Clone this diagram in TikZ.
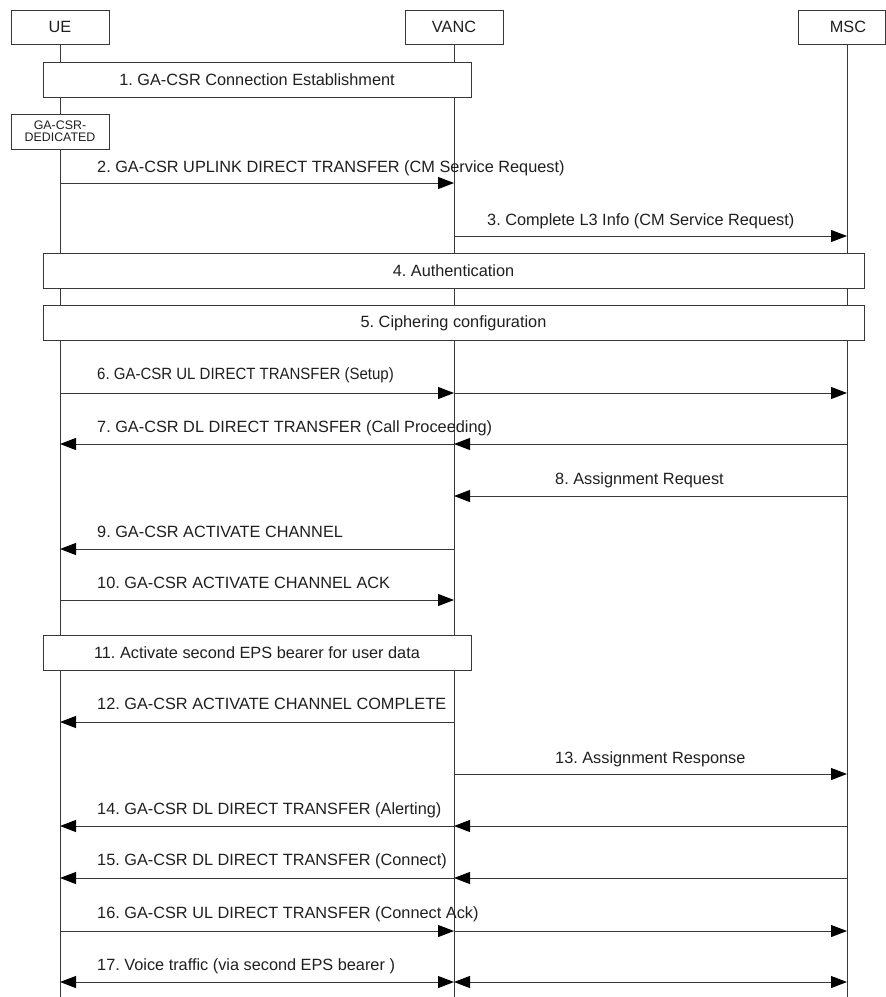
\documentclass[tikz,border=0pt]{standalone}
\usepackage{fontspec}
\setmainfont{Liberation Sans}
\usetikzlibrary{arrows.meta}
\begin{document}
\frenchspacing
\begin{tikzpicture}[x=1pt,y=-1pt,
  line/.style={draw=black!78, line width=0.9pt},
  entity/.style={line, fill=white, minimum width=98pt, minimum height=34pt, inner sep=0pt,
    text=black!88, font=\fontsize{16.3}{19}\selectfont},
  phase/.style={line, fill=white, minimum height=35pt, inner sep=0pt,
    text=black!88, font=\fontsize{16.3}{19}\selectfont},
  state/.style={line, fill=white, minimum width=98pt, minimum height=35pt, inner sep=0pt,
    align=center, text=black!88, font=\fontsize{12.4}{12.4}\selectfont},
  tip/.tip={Triangle[length=16pt,width=12pt,fill=black,color=black]},
  msg/.style={line, -tip},
  both/.style={line, tip-tip},
  lbl/.style={anchor=base west, inner sep=0pt, text=black!88, font=\fontsize{16.3}{19}\selectfont}
]
\useasboundingbox (0,0) rectangle (886,997);

% message rows: one coordinate on each lifeline
\newcommand\msgrow[2]{%
  \coordinate (u#1) at (60,#2);
  \coordinate (v#1) at (454,#2);
  \coordinate (m#1) at (847,#2);}
\msgrow{2}{183}
\msgrow{3}{236}
\msgrow{6}{393}
\msgrow{7}{444}
\msgrow{8}{496}
\msgrow{9}{549}
\msgrow{10}{600}
\msgrow{12}{722}
\msgrow{13}{774}
\msgrow{14}{826}
\msgrow{15}{878}
\msgrow{16}{931}
\msgrow{17}{982}

% entities
\node[entity] (ue) at (60,27) {UE};
\node[entity] (vanc) at (454,27) {VANC};
\node[entity, minimum width=87pt] (msc) at (841.5,27) {\hspace*{13pt}MSC};

% lifelines
\coordinate (ueEnd) at (60,997);
\coordinate (vancEnd) at (454,997);
\coordinate (mscTop) at (847,44);
\coordinate (mscEnd) at (847,997);
\draw[line] (ue.south) -- (ueEnd);
\draw[line] (vanc.south) -- (vancEnd);
\draw[line] (mscTop) -- (mscEnd);

% procedures spanning the lifelines
\node[phase, minimum width=428pt] (p1) at (257,79.5) {1. GA-CSR Connection Establishment};
\node[state] (ded) at (60,131.5) {GA-CSR-\\DEDICATED};
\node[phase, minimum width=821pt] (p4) at (453.5,270.5) {4. Authentication};
\node[phase, minimum width=821pt] (p5) at (453.5,323) {5. Ciphering configuration};
\node[phase, minimum width=428pt] (p11) at (257,652.5) {11. Activate second EPS bearer for user data};

% messages
\draw[msg] (u2) -- (v2);
\node[lbl] (l2) at (97,172) {2. GA-CSR UPLINK DIRECT TRANSFER (CM Service Request)};

\draw[msg] (v3) -- (m3);
\node[lbl] (l3) at (487,225) {3. Complete L3 Info (CM Service Request)};

\draw[msg] (u6) -- (v6);
\draw[msg] (v6) -- (m6);
\node[lbl] (l6) at (97,379) {\scalebox{0.92}[1]{6. GA-CSR UL DIRECT TRANSFER (Setup)}};

\draw[msg] (m7) -- (v7);
\draw[msg] (v7) -- (u7);
\node[lbl] (l7) at (97,432) {7. GA-CSR DL DIRECT TRANSFER (Call Proceeding)};

\draw[msg] (m8) -- (v8);
\node[lbl] (l8) at (555,484) {8. Assignment Request};

\draw[msg] (v9) -- (u9);
\node[lbl] (l9) at (97,537) {9. GA-CSR ACTIVATE CHANNEL};

\draw[msg] (u10) -- (v10);
\node[lbl] (l10) at (97,588) {10. GA-CSR ACTIVATE CHANNEL ACK};

\draw[msg] (v12) -- (u12);
\node[lbl] (l12) at (97,709) {12. GA-CSR ACTIVATE CHANNEL COMPLETE};

\draw[msg] (v13) -- (m13);
\node[lbl] (l13) at (555,763) {13. Assignment Response};

\draw[msg] (m14) -- (v14);
\draw[msg] (v14) -- (u14);
\node[lbl] (l14) at (97,814) {14. GA-CSR DL DIRECT TRANSFER (Alerting)};

\draw[msg] (m15) -- (v15);
\draw[msg] (v15) -- (u15);
\node[lbl] (l15) at (97,865) {15. GA-CSR DL DIRECT TRANSFER (Connect)};

\draw[msg] (u16) -- (v16);
\draw[msg] (v16) -- (m16);
\node[lbl] (l16) at (97,918) {16. GA-CSR UL DIRECT TRANSFER (Connect Ack)};

\draw[both] (u17) -- (v17);
\draw[both] (v17) -- (m17);
\node[lbl] (l17) at (97,970) {17. Voice traffic (via second EPS bearer )};
\end{tikzpicture}
\end{document}
